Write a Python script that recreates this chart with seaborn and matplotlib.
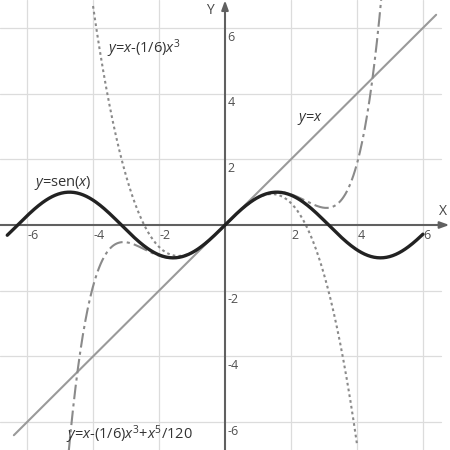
import numpy as np
import pandas as pd
import matplotlib
matplotlib.use("Agg")
import matplotlib.pyplot as plt
import seaborn as sns

# Дані: функції з підписів графіка та межі
sin_range = [-6.6, 6.0]
line_range = [-6.4, 6.4]
cubic_range = [-4.0, 4.0]
quintic_range = [-4.9, 4.9]
taylor_coefs = [1.0, -1.0 / 6.0, 1.0 / 120.0]   # x, x^3, x^5

grid_ticks = [-6, -4, -2, 2, 4, 6]
tick_labels = ["-6", "-4", "-2", "2", "4", "6"]


def sample(rng, n=400):
    return np.linspace(rng[0], rng[1], n)


x_sin = sample(sin_range)
x_line = np.array(line_range)
x_cub = sample(cubic_range)
x_qui = sample(quintic_range)

df_sin = pd.DataFrame({"x": x_sin, "y": np.sin(x_sin)})
df_line = pd.DataFrame({"x": x_line, "y": x_line})
df_cub = pd.DataFrame({"x": x_cub, "y": taylor_coefs[0] * x_cub + taylor_coefs[1] * x_cub ** 3})
df_qui = pd.DataFrame({"x": x_qui, "y": taylor_coefs[0] * x_qui + taylor_coefs[1] * x_qui ** 3
                       + taylor_coefs[2] * x_qui ** 5})

sns.set_style("white")
plt.rcParams["font.family"] = ["Open Sans", "DejaVu Sans"]
plt.rcParams["mathtext.fontset"] = "custom"
plt.rcParams["mathtext.rm"] = "Open Sans"
plt.rcParams["mathtext.it"] = "Open Sans:italic"

fig = plt.figure(figsize=(4.5, 4.5), dpi=100)
ax = fig.add_axes([0, 0, 1, 1])
ax.set_xlim(-6.82, 6.82)
ax.set_ylim(-6.85, 6.85)
for s in ax.spines.values():
    s.set_visible(False)
ax.set_xticks([])
ax.set_yticks([])

# Сітка
for t in grid_ticks:
    ax.axvline(t, color="#dcdcdc", lw=0.9, zorder=0)
    ax.axhline(t, color="#dcdcdc", lw=0.9, xmax=0.98, zorder=0)

# Осі зі стрілками
arrow = dict(arrowstyle="-|>,head_length=0.55,head_width=0.2", color="#606060", lw=1.5,
             shrinkA=0, shrinkB=0)
ax.annotate("", xy=(6.8, 0), xytext=(-6.82, 0), arrowprops=arrow, zorder=3)
ax.annotate("", xy=(0, 6.84), xytext=(0, -6.85), arrowprops=arrow, zorder=3)
ax.text(6.6, 0.4, "X", fontsize=10, color="#444444", ha="center", va="center")
ax.text(-0.47, 6.76, "Y", fontsize=10, color="#444444", ha="center", va="top")

# Підписи поділок
for t, lab in zip(grid_ticks, tick_labels):
    ax.text(t + 0.02, -0.12, lab, fontsize=9, color="#505050", ha="left", va="top")
    ax.text(0.08, t - 0.08, lab, fontsize=9, color="#505050", ha="left", va="top")

# Криві
sns.lineplot(data=df_line, x="x", y="y", sort=False, color="#9a9a9a", lw=1.5, ax=ax, zorder=2)
sns.lineplot(data=df_cub, x="x", y="y", sort=False, color="#8a8a8a", lw=1.5,
             linestyle=(0, (1.3, 1.5)), ax=ax, zorder=2)
sns.lineplot(data=df_qui, x="x", y="y", sort=False, color="#8a8a8a", lw=1.5,
             linestyle=(0, (7, 2, 1.5, 2)), ax=ax, zorder=2)
sns.lineplot(data=df_sin, x="x", y="y", sort=False, color="#222222", lw=2.4, ax=ax, zorder=4)
ax.set_xlabel("")
ax.set_ylabel("")

# Підписи кривих
txt = dict(fontsize=10.5, color="#333333", ha="left", va="center")
ax.text(-3.58, 5.36, r"$y$=$x$-(1/6)$x^3$", **txt)
ax.text(-5.8, 1.27, r"$y$=sen($x$)", **txt)
ax.text(2.18, 3.24, r"$y$=$x$", **txt)
ax.text(-4.82, -6.39, r"$y$=$x$-(1/6)$x^3$+$x^5$/120", **txt)

fig.savefig("out.png", dpi=100)
